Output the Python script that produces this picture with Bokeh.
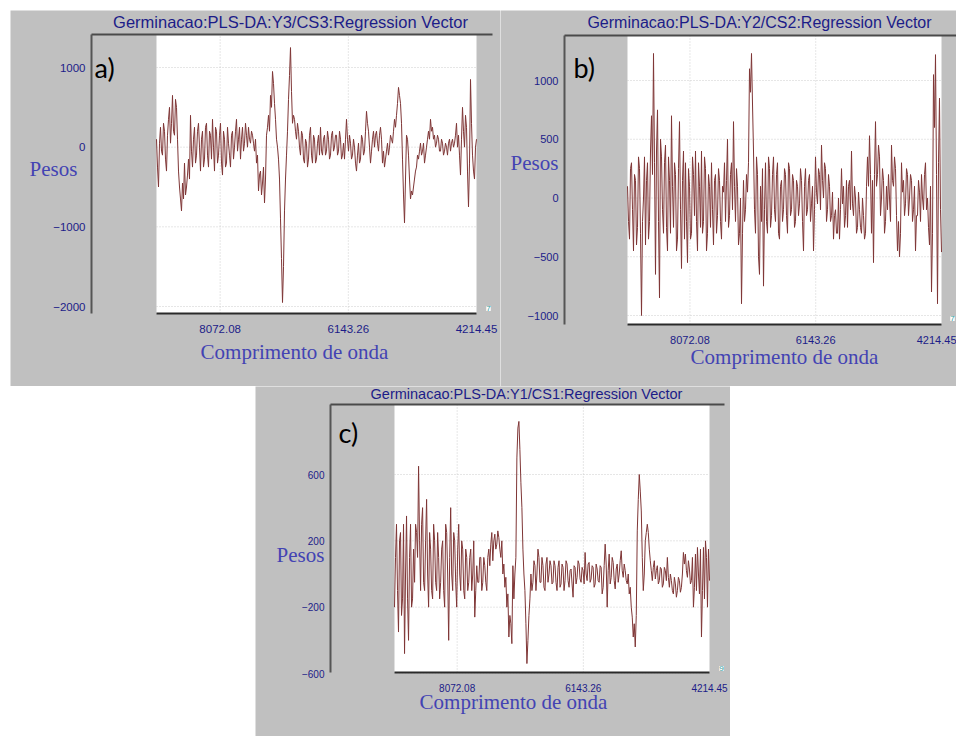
import numpy as np
from bokeh.plotting import figure
from bokeh.models import Range1d, FixedTicker, Label, Spacer
from bokeh.layouts import row, column
from bokeh.embed import file_html
from bokeh.resources import INLINE

# ---- data -------------------------------------------------------------
# wavenumber grid of the regression vectors (descending, cm-1)
wn_start = 9030.0
wn_end = 4214.45

x_ticks = [8072.08, 6143.26, 4214.45]
x_tick_labels = ["8072.08", "6143.26", "4214.45"]

# Y3 / CS3 regression vector
pesos_a = [
    100, -250, -500, 50, 250, -50, -100, 300, 200, -150, -300, 150, 350, 500, 50, 300, 650, 200, 150, 600,
    500, 100, -300, -500, -650, -800, -450, -650, -200, -600, -500, -350, -150, -400, 400, -50, -250, 100, 250, -200,
    -100, 200, 300, 0, -300, 100, 200, -250, -150, 250, 300, -100, -250, 200, 150, -150, 350, 0, -300, 250,
    200, -200, -100, 150, 300, -200, -350, 200, 100, -250, -200, 250, 50, -100, -250, 150, 200, -150, 0, 200,
    350, -50, 100, 250, -150, 100, 250, -50, 50, 300, 150, 0, 250, 100, 50, 200, 150, 50, -50, 100,
    -200, -100, -550, -350, -300, -600, -450, -250, -700, -400, 150, 250, 400, 200, 650, 500, 950, 800, 550, 350,
    100, 0, -150, -400, -900, -1400, -1950, -1500, -800, -400, -100, 200, 600, 900, 1250, 700, 300, 400, 350, 200,
    100, 300, 200, 0, -100, 200, 150, -150, -200, 100, 50, -250, -150, 150, 250, -100, -200, 150, 100, -200,
    -150, 50, 150, -100, 250, -50, -100, 100, 150, -100, -50, 200, 100, -150, -100, 150, 200, -50, 0, 150,
    150, -100, -50, 200, 100, -150, -100, 50, -150, 100, 350, 100, -50, 150, 50, -150, -100, 100, 0, -200,
    -300, -100, 50, -200, -150, 150, 100, -100, -50, 200, 450, 300, 200, 0, -200, -50, 100, 200, 0, 150,
    200, 50, -50, 150, 250, 100, -200, -50, -250, -150, -50, 50, -100, 0, 150, 100, 50, 200, 350, 250,
    400, 550, 750, 650, 550, 300, -150, -600, -950, -400, 150, 100, -100, -400, -650, -550, -600, -500, -400, -300,
    -250, -100, -150, -50, 50, -100, -50, 50, -200, -100, 0, 100, 200, 100, 350, 200, 250, 100, 150, 0,
    50, 150, 100, -50, -50, 100, 50, -100, -50, 50, 0, -100, 50, 100, -50, 50, 100, 0, 50, 150,
    300, 0, 150, -100, -350, 100, 500, 200, 0, 400, 250, -300, -750, -200, 850, 300, -100, -300, -400, 0,
    100,
]

# Y2 / CS2 regression vector
pesos_b = [
    100, -200, -350, 250, 300, -100, -450, 200, 150, -400, -250, 350, 250, -300, -1000, -200, 0, 350, -400, 150,
    300, -350, -200, 400, 700, 200, 1230, 300, -650, 400, 750, -200, -850, 500, 350, -100, -300, 300, 450, -250,
    -450, 350, 150, -300, 700, 100, -250, 300, 200, -450, -350, 250, 650, -100, -600, 150, 400, -350, 300, -200,
    -550, 250, 100, -350, -300, 350, 200, -150, 400, -200, -450, 300, 100, -250, 400, -300, -200, 350, 250, -450,
    -300, 200, 100, -250, 300, -100, -400, 150, 200, -300, -150, 250, 150, -200, -350, 100, 50, 300, -200, 150,
    500, -250, -150, 200, 300, -100, 650, 100, -200, 250, 100, -400, -300, 0, -900, -300, 150, -200, -100, 200,
    50, 300, 1100, 900, 1230, 800, 400, -100, -300, 350, 200, -500, -650, 100, -200, 250, -750, -100, 300, -200,
    -300, 350, 250, -250, -150, 200, 350, -100, -200, 200, 300, -300, -350, 100, 150, -200, -100, 250, 200, -150,
    -300, 300, 250, -150, -100, 200, 150, -250, -200, 150, 100, -150, -50, 250, 150, -200, -450, 100, 250, -150,
    -100, 150, 200, -200, -50, 100, -450, -100, 350, 50, -50, 250, 200, -100, 450, 150, 0, 300, 250, -200,
    -100, 200, 100, -200, -150, 50, -350, -150, -100, -300, -300, 0, -350, -100, 250, -50, 100, -250, -150, 150,
    -250, 100, 150, -100, 400, -50, -150, 100, 0, -300, -250, 50, -100, -250, -300, 0, -150, -350, -300, 100,
    350, 100, 530, 200, -300, 150, -550, 200, 650, 100, 200, 450, 350, -150, 0, 250, 150, -300, -200, 100,
    -100, 200, 0, -200, 450, 150, 100, 350, 250, -150, -450, -200, -500, -300, 300, 50, 150, -150, -50, 250,
    200, -150, 0, 200, 150, -200, -100, 100, -450, -150, -150, 150, 50, -200, 200, 0, -100, 200, 300, -100,
    0, -250, -400, 100, -800, -300, 1050, 600, 1220, 200, -900, 300, 850, -100,
    -460,
]

# Y1 / CS1 regression vector
pesos_c = [
    -200, 100, 300, -100, -350, 200, 250, -250, -150, 300, -480, 0, 350, -150, -400, 100, 300, -200, -150, 150,
    -50, 300, 250, 100, 650, 200, -100, 300, 400, -50, -100, 200, 450, 0, -200, 250, 150, -100, -150, 300,
    200, -50, -100, 250, 100, -150, -50, 150, 200, -100, -200, 300, 250, 0, -400, 100, 400, 0, -100, 250,
    200, -50, -200, 150, 300, 0, -100, 200, 150, -100, -150, 150, 100, -100, -50, 100, 150, -100, 0, 200,
    -260, -100, 50, -50, -50, 100, 100, -100, -50, 100, 50, -50, -100, 100, 150, 50, 180, 250, 80, 200,
    240, 150, 180, 260, 220, 150, 100, 200, 0, 60, -80, -20, -200, -120, -380, -250, -300, -420, 50, -150,
    0, 100, 700, 880, 920, 750, 550, 400, 150, 0, -100, -300, -540, -400, -250, -150, 0, -100, -50, 80,
    50, -100, 0, 150, 100, -50, -50, 100, 50, -80, -100, 60, 100, -50, 0, 80, 50, -60, -50, 80,
    50, -50, -100, 40, 80, -80, -60, 60, 40, -100, -40, 80, 60, -40, -80, 20, 30, -60, -140, 50,
    40, -60, -20, 80, 60, -30, -50, 40, 20, -60, 130, 0, -40, 60, 70, -50, -30, 50, 40, -80,
    -60, 60, 30, -40, -50, 50, 40, -120, -80, 50, 180, 60, -200, 20, 120, -60, -20, 100, 70, -40,
    -90, 30, 60, -50, 0, 80, 140, 20, -20, 60, 20, -40, -60, 0, -120, -80, -200, -260, -380, -300,
    -440, -250, 260, 450, 600, 500, 380, 100, -100, 0, 200, 250, 300, 250, 150, 80, 20, -40, 40, 80,
    -30, 20, 50, -60, -40, 40, 30, -80, -60, 40, 20, -40, 100, -20, -80, 0, -40, -100, -120, -20,
    -60, -140, -100, -20, -40, -110, -80, 0, 130, 60, 120, 20, -20, 80, 30, -60, -40, 100, -200, -80,
    120, -100, 160, 0, -120, 150, -380, -100, 160, -150, 200, 100, -200, 150,
    -40,
]

yticks_a = [-2000, -1000, 0, 1000]
yticks_b = [-1000, -500, 0, 500, 1000]
yticks_c = [-600, -200, 200, 600]

title_a = "Germinacao:PLS-DA:Y3/CS3:Regression Vector"
title_b = "Germinacao:PLS-DA:Y2/CS2:Regression Vector"
title_c = "Germinacao:PLS-DA:Y1/CS1:Regression Vector"

# ---- styling ----------------------------------------------------------
GRAY = "#c0c0c0"
LINE = "#7f3636"
NAVY = "#1c1c88"
LABEL_BLUE = "#4343b3"
GRID = "#cdcdcd"
TICK_FONT = "Liberation Sans"


def make_panel(title, values, yticks, tag, marker, fig_box, white_lr, y_anchor,
               box_ltrb, title_pos, title_size, tick_size,
               pesos_pos, comp_pos, tag_pos, marker_pos):
    """One spectrum panel; the frame fills the whole gray panel and the
    axes sit at fixed locations inside it (page-pixel layout anchors)."""
    fx, fy, fw, fh = fig_box
    wl, wr = white_lr
    (v1, py1), (v2, py2) = y_anchor
    L, T, R, B = box_ltrb

    sx = (wn_start - wn_end) / (wr - wl)
    sy = (v1 - v2) / (py2 - py1)

    def xd(px):
        return wn_end + (wr - px) * sx

    def yd(py):
        return v1 + (py1 - py) * sy

    p = figure(
        width=fw, height=fh, title=None,
        x_range=Range1d(xd(fx), xd(fx + fw)), y_range=Range1d(yd(fy + fh), yd(fy)),
        toolbar_location=None, tools="", output_backend="svg",
        min_border_left=0, min_border_right=0, min_border_top=0, min_border_bottom=0,
        background_fill_color=GRAY, border_fill_color=GRAY,
        outline_line_color=None,
    )
    p.grid.visible = False

    wn = np.linspace(wn_start, wn_end, len(values))
    lo, hi = wn.min(), wn.max()
    ytop, ybot = yd(T), yd(B)

    # white plotting area of the spectrum
    p.quad(left=[hi], right=[lo], bottom=[ybot], top=[ytop],
           fill_color="white", line_color=None)

    # dotted grid, only over the spectrum area
    p.segment(x0=[hi] * len(yticks), x1=[lo] * len(yticks), y0=yticks, y1=yticks,
              line_color=GRID, line_width=1, line_dash="1 2")
    inner = [t for t in x_ticks if lo < t < hi]
    p.segment(x0=inner, x1=inner, y0=[ybot] * len(inner), y1=[ytop] * len(inner),
              line_color=GRID, line_width=1, line_dash="1 2")

    p.line(wn, values, line_color=LINE, line_width=1.0)

    # top edge of the chart box
    p.segment(x0=[xd(L)], x1=[xd(R)], y0=[ytop], y1=[ytop],
              line_color="#4a4a4a", line_width=2)

    ya = p.yaxis[0]
    ya.fixed_location = xd(L)
    ya.bounds = (ybot, ytop)
    ya.ticker = FixedTicker(ticks=yticks)
    ya.major_tick_line_color = None
    ya.minor_tick_line_color = None
    ya.major_tick_out = 0
    ya.major_tick_in = 0
    ya.axis_line_color = "#555555"
    ya.axis_line_width = 2
    ya.major_label_text_font = TICK_FONT
    ya.major_label_text_font_size = tick_size
    ya.major_label_text_color = NAVY
    ya.major_label_standoff = 6

    xa = p.xaxis[0]
    xa.fixed_location = ybot
    xa.ticker = FixedTicker(ticks=x_ticks)
    xa.major_label_overrides = dict(zip(x_ticks, x_tick_labels))
    xa.bounds = (lo, hi)
    xa.major_tick_line_color = None
    xa.minor_tick_line_color = None
    xa.major_tick_out = 0
    xa.major_tick_in = 0
    xa.axis_line_color = "#2a2a2a"
    xa.axis_line_width = 2
    xa.major_label_text_font = TICK_FONT
    xa.major_label_text_font_size = tick_size
    xa.major_label_text_color = NAVY
    xa.major_label_standoff = 11

    def put(text, pos, **kw):
        p.add_layout(Label(x=xd(pos[0]), y=yd(pos[1]), text=text,
                           text_baseline="middle", **kw))

    put(title, title_pos, text_font="Liberation Sans", text_font_size=title_size,
        text_color=NAVY, text_align="center")
    put("Pesos", pesos_pos, text_font="Liberation Serif", text_font_size="21px",
        text_color=LABEL_BLUE, text_align="left")
    put("Comprimento de onda", comp_pos, text_font="Liberation Serif",
        text_font_size="21px", text_color=LABEL_BLUE, text_align="center")
    put(tag, tag_pos, text_font="Lato", text_font_size="27px",
        text_color="black", text_align="left")
    put(marker, marker_pos, text_font="Liberation Sans", text_font_size="8px",
        text_color="#2f9c9c", background_fill_color="white", text_align="center")
    return p


pa = make_panel(title_a, pesos_a, yticks_a, "a)", "7",
                fig_box=(10, 10, 490, 376), white_lr=(156, 476),
                y_anchor=((1000, 67), (-2000, 306)), box_ltrb=(91, 34, 492, 313),
                title_pos=(290, 21), title_size="16.5px", tick_size="11.5px",
                pesos_pos=(29, 168), comp_pos=(294, 351),
                tag_pos=(94, 67), marker_pos=(488, 308))

pb = make_panel(title_b, pesos_b, yticks_b, "b)", "7",
                fig_box=(500, 10, 456, 376), white_lr=(627, 941),
                y_anchor=((1000, 80), (-1000, 315)), box_ltrb=(564, 35, 956, 324),
                title_pos=(759, 22), title_size="16px", tick_size="11px",
                pesos_pos=(510, 162), comp_pos=(784, 356),
                tag_pos=(573, 67), marker_pos=(952, 318))

pc = make_panel(title_c, pesos_c, yticks_c, "c)", "9",
                fig_box=(255, 386, 475, 350), white_lr=(394, 709),
                y_anchor=((600, 474), (-600, 673)), box_ltrb=(330, 404, 724, 672),
                title_pos=(526, 393), title_size="14.5px", tick_size="10px",
                pesos_pos=(276, 554), comp_pos=(513, 701),
                tag_pos=(338, 432), marker_pos=(721, 668))

layout = column(
    Spacer(width=956, height=10),
    row(Spacer(width=10, height=376), pa, pb),
    row(Spacer(width=255, height=350), pc),
)

open("out.html", "w").write(file_html(layout, INLINE))
